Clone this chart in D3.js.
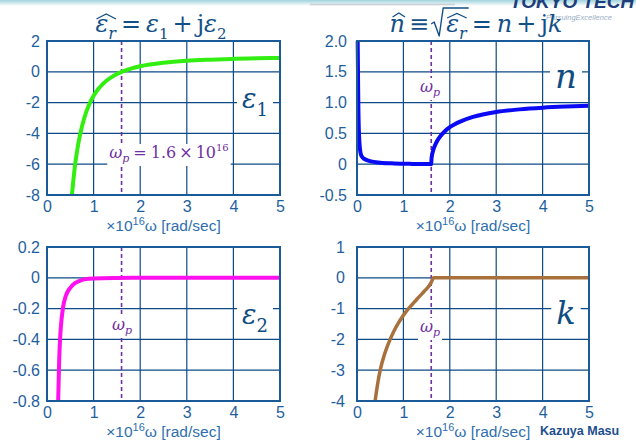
<!DOCTYPE html>
<html>
<head>
<meta charset="utf-8">
<script src="https://cdn.jsdelivr.net/npm/d3@7"></script>
<style>
  body { margin: 0; background: #fff; }
  svg { display: block; }
</style>
</head>
<body>
<div id="chart"></div>
<script>
// ===== Data (omega in 1e16 rad/s) =====
const xTicks = [0, 1, 2, 3, 4, 5];
const omegaP = 1.6;

const eps1Ticks = [2, 0, -2, -4, -6, -8];
const eps1Labels = ["2", "0", "-2", "-4", "-6", "-8"];
const eps1W = [0.535, 0.6, 0.65, 0.7, 0.8, 0.9, 1.0, 1.1, 1.2, 1.4, 1.6, 1.8, 2.0, 2.5, 3.0, 3.5, 4.0, 4.5, 5.0];
const eps1V = [-8.0, -6.1, -5.06, -4.22, -3.0, -2.16, -1.56, -1.12, -0.78, -0.31, 0, 0.21, 0.36, 0.59, 0.72, 0.79, 0.84, 0.874, 0.9];

const nTicks = [2, 1.5, 1, 0.5, 0, -0.5];
const nLabels = ["2.0", "1.5", "1.0", "0.5", "0", "-0.5"];
const nW = [0.015, 0.02, 0.025, 0.03, 0.04, 0.05, 0.065, 0.08, 0.1, 0.15, 0.2, 0.3, 0.5, 0.8, 1.2, 1.58, 1.6, 1.605, 1.62, 1.65, 1.7, 1.8, 1.9, 2.0, 2.25, 2.5, 3.0, 3.5, 4.0, 4.5, 5.0];
const nV = [2.0, 1.6, 1.2, 0.9, 0.55, 0.38, 0.24, 0.17, 0.13, 0.09, 0.07, 0.045, 0.025, 0.012, 0.005, 0.002, 0, 0.08, 0.157, 0.244, 0.338, 0.458, 0.54, 0.6, 0.7, 0.768, 0.848, 0.89, 0.917, 0.935, 0.948];

const eps2Ticks = [0.2, 0, -0.2, -0.4, -0.6, -0.8];
const eps2Labels = ["0.2", "0", "-0.2", "-0.4", "-0.6", "-0.8"];
const eps2W = [0.24, 0.26, 0.28, 0.3, 0.34, 0.4, 0.5, 0.6, 0.7, 0.8, 1.0, 1.5, 2.0, 5.0];
const eps2V = [-0.8, -0.55, -0.4, -0.31, -0.2, -0.12, -0.065, -0.035, -0.02, -0.01, -0.004, -0.001, 0, 0];

const kTicks = [1, 0, -1, -2, -3, -4];
const kLabels = ["1", "0", "-1", "-2", "-3", "-4"];
const kW = [0.39, 0.45, 0.5, 0.6, 0.7, 0.8, 0.9, 1.0, 1.1, 1.2, 1.3, 1.4, 1.47, 1.56, 1.6, 1.65, 5.0];
const kV = [-4.0, -3.4, -3.0, -2.45, -2.05, -1.72, -1.45, -1.22, -1.02, -0.85, -0.68, -0.52, -0.4, -0.25, -0.15, 0, 0];

// ===== Layout =====
const W = 636, H = 442;
const MATH = "'DejaVu Serif', 'Liberation Serif', serif";
const SANS = "'Liberation Sans', Arial, sans-serif";
const NAVY = "#0d4a86";
const TICK = "#1f5f9e";
const PURPLE = "#7030a0";

const svg = d3.select("#chart").append("svg").attr("width", W).attr("height", H);

// header strip + logo
const defs = svg.append("defs");
const grad = defs.append("linearGradient").attr("id", "hdr").attr("x1", 0).attr("y1", 0).attr("x2", 0).attr("y2", 1);
grad.append("stop").attr("offset", "0%").attr("stop-color", "#9fd3dc");
grad.append("stop").attr("offset", "100%").attr("stop-color", "#ffffff");
svg.append("rect").attr("x", 0).attr("y", 0).attr("width", W).attr("height", 6).attr("fill", "url(#hdr)");
svg.append("line").attr("x1", 310).attr("x2", 455).attr("y1", 4.5).attr("y2", 4.5)
  .attr("stroke", "#c9cfd6").attr("stroke-width", 1.5);
svg.append("text").attr("x", 510).attr("y", 8)
  .style("font-family", SANS).style("font-size", "19px").style("font-weight", "bold").style("font-style", "italic")
  .attr("fill", "#1f3d7a").text("TOKYO TECH");
svg.append("text").attr("x", 546).attr("y", 20)
  .style("font-family", SANS).style("font-size", "7.5px").style("font-style", "italic")
  .attr("fill", "#9bb0c8").text("PursuingExcellence");

// ===== Helpers =====
// lays out a row of math parts left to right, centred on cx
function mathRow(parent, cx, base, parts, size, color) {
  const g = parent.append("g");
  let x = 0;
  const boxes = [];
  parts.forEach(p => {
    const fs = p.size || size;
    const dy = p.sub ? size * 0.28 : p.sup ? -size * 0.42 : 0;
    x += p.pre || 0;
    const t = g.append("text")
      .attr("x", x).attr("y", base + dy)
      .style("font-family", MATH)
      .style("font-size", fs + "px")
      .style("font-style", p.it ? "italic" : "normal")
      .attr("fill", p.color || color)
      .text(p.t);
    const w = t.node().getComputedTextLength();
    boxes.push({ x, w, fs });
    x += w + (p.post || 0);
  });
  const left = cx - x / 2;
  g.attr("transform", `translate(${left},0)`);
  return { g, boxes, width: x, left };
}

function drawPanel(p) {
  const x = d3.scaleLinear().domain([0, 5]).range([p.x0, p.x1]);
  const y = d3.scaleLinear().domain([p.ticks[p.ticks.length - 1], p.ticks[0]]).range([p.y1, p.y0]);
  const g = svg.append("g");

  // grid
  g.selectAll(".gx").data(xTicks.slice(1, -1)).enter().append("line")
    .attr("x1", d => x(d)).attr("x2", d => x(d))
    .attr("y1", p.y0).attr("y2", p.y1)
    .attr("stroke", NAVY).attr("stroke-width", 1.2);
  g.selectAll(".gy").data(p.ticks.slice(1, -1)).enter().append("line")
    .attr("x1", p.x0).attr("x2", p.x1)
    .attr("y1", d => y(d)).attr("y2", d => y(d))
    .attr("stroke", NAVY).attr("stroke-width", 1.2);

  // axes labels
  const ax = g.append("g").attr("transform", `translate(0,${p.y1})`)
    .call(d3.axisBottom(x).tickValues(xTicks).tickFormat(d3.format("d")).tickSize(0).tickPadding(6));
  const ay = g.append("g").attr("transform", `translate(${p.x0},0)`)
    .call(d3.axisLeft(y).tickValues(p.ticks).tickFormat((d, i) => p.labels[i]).tickSize(0).tickPadding(p.pad));
  [ax, ay].forEach(a => {
    a.select(".domain").remove();
    a.selectAll("text").style("font-family", SANS).style("font-size", "16px").attr("fill", TICK);
  });

  // x axis title
  const xt = g.append("text").attr("x", (p.x0 + p.x1) / 2).attr("y", p.y1 + 36)
    .attr("text-anchor", "middle")
    .style("font-family", SANS).style("font-size", "15.5px").attr("fill", "#2f6fae");
  xt.append("tspan").text("×10");
  xt.append("tspan").attr("dy", -6).style("font-size", "11px").text("16");
  xt.append("tspan").attr("dy", 6).text("ω [rad/sec]");

  // omega_p dashed line
  g.append("line")
    .attr("x1", x(omegaP)).attr("x2", x(omegaP))
    .attr("y1", p.y0).attr("y2", p.y1)
    .attr("stroke", PURPLE).attr("stroke-width", 1.6).attr("stroke-dasharray", "4,3");

  // omega_p label with white backing
  const lab = mathRow(g, p.wpX, p.wpY, p.wpParts, 16, PURPLE);
  g.insert("rect", () => lab.g.node())
    .attr("x", lab.left - 2).attr("y", p.wpY - 14).attr("width", lab.width + 4).attr("height", 22)
    .attr("fill", "#fff");

  // curve
  const pts = p.w.map((w, i) => [w, p.v[i]]);
  g.append("path").datum(pts)
    .attr("d", d3.line().x(d => x(d[0])).y(d => y(d[1])).curve(d3.curveMonotoneX))
    .attr("fill", "none").attr("stroke", p.color).attr("stroke-width", p.sw)
    .attr("stroke-linejoin", "round");

  // frame
  g.append("rect").attr("x", p.x0).attr("y", p.y0).attr("width", p.x1 - p.x0).attr("height", p.y1 - p.y0)
    .attr("fill", "none").attr("stroke", "#1b5a98").attr("stroke-width", 2);

  // big symbol label
  const sym = mathRow(g, p.symX, p.symY, p.symParts, 27, "#0f4c81");
  g.insert("rect", () => sym.g.node())
    .attr("x", sym.left - 5).attr("y", p.symY - 24).attr("width", sym.width + 10).attr("height", 34)
    .attr("fill", "#fff");
}

const wpShort = [{ t: "ω", it: true }, { t: "p", it: true, sub: true, size: 11 }];
const wpLong = [{ t: "ω", it: true }, { t: "p", it: true, sub: true, size: 11, post: 4 },
  { t: "=", post: 4 }, { t: "1.6", post: 3 }, { t: "×", post: 3 }, { t: "10" }, { t: "16", sup: true, size: 10 }];

const panels = [
  { x0: 47, x1: 280, y0: 41, y1: 195, ticks: eps1Ticks, labels: eps1Labels, pad: 7,
    w: eps1W, v: eps1V, color: "#33ee11", sw: 4,
    wpX: 169, wpY: 158, wpParts: wpLong,
    symX: 255, symY: 108, symParts: [{ t: "ε", it: true }, { t: "1", sub: true, size: 18 }] },
  { x0: 357, x1: 589, y0: 41, y1: 195, ticks: nTicks, labels: nLabels, pad: 10,
    w: nW, v: nV, color: "#0a0af5", sw: 4,
    wpX: 430, wpY: 92, wpParts: wpShort,
    symX: 566, symY: 88, symParts: [{ t: "n", it: true, size: 34 }] },
  { x0: 47, x1: 280, y0: 247, y1: 401, ticks: eps2Ticks, labels: eps2Labels, pad: 7,
    w: eps2W, v: eps2V, color: "#ff10ee", sw: 4,
    wpX: 122, wpY: 330, wpParts: wpShort,
    symX: 255, symY: 324, symParts: [{ t: "ε", it: true }, { t: "2", sub: true, size: 18 }] },
  { x0: 357, x1: 589, y0: 247, y1: 401, ticks: kTicks, labels: kLabels, pad: 12,
    w: kW, v: kV, color: "#a8703c", sw: 3.5,
    wpX: 430, wpY: 332, wpParts: wpShort,
    symX: 566, symY: 324, symParts: [{ t: "k", it: true, size: 32 }] },
];

panels.forEach(drawPanel);

// ===== Titles =====
const TCOL = "#134f87";
const t1 = mathRow(svg, 161, 32, [
  { t: "ε", it: true }, { t: "r", it: true, sub: true, size: 16, post: 5 },
  { t: "=", post: 5 }, { t: "ε", it: true }, { t: "1", sub: true, size: 15, post: 4 },
  { t: "+", post: 4 }, { t: "j" }, { t: "ε", it: true }, { t: "2", sub: true, size: 15 }
], 24, TCOL);
{
  const b0 = t1.boxes[0], b1 = t1.boxes[1];
  const xa = b0.x + 1, xb = b1.x + b1.w;
  t1.g.append("path")
    .attr("d", `M${xa},${19} L${(xa + xb) / 2},${14} L${xb},${19}`)
    .attr("fill", "none").attr("stroke", TCOL).attr("stroke-width", 1.3);
}

const t2 = mathRow(svg, 476, 32, [
  { t: "n", it: true, post: 4 }, { t: "≡", post: 17 },
  { t: "ε", it: true }, { t: "r", it: true, sub: true, size: 16, post: 5 },
  { t: "=", post: 5 }, { t: "n", it: true, post: 4 }, { t: "+", post: 4 }, { t: "j" }, { t: "k", it: true }
], 24, TCOL);
{
  const n0 = t2.boxes[0];
  t2.g.append("path")
    .attr("d", `M${n0.x + 3},${17} L${n0.x + n0.w / 2 + 1.5},${13} L${n0.x + n0.w},${17}`)
    .attr("fill", "none").attr("stroke", TCOL).attr("stroke-width", 1.3);
  const e0 = t2.boxes[2], r0 = t2.boxes[3];
  const xa = e0.x + 1, xb = r0.x + r0.w;
  t2.g.append("path")
    .attr("d", `M${xa},${18} L${(xa + xb) / 2},${13.5} L${xb},${18}`)
    .attr("fill", "none").attr("stroke", TCOL).attr("stroke-width", 1.3);
  // radical sign
  const rx = e0.x - 3;
  t2.g.append("path")
    .attr("d", `M${rx - 12},${24} L${rx - 9},${22} L${rx - 4},${36} L${rx},${8} L${xb + 2},${8}`)
    .attr("fill", "none").attr("stroke", TCOL).attr("stroke-width", 1.4).attr("stroke-linejoin", "round");
}

// signature
svg.append("text").attr("x", 540).attr("y", 435)
  .style("font-family", SANS).style("font-size", "12.5px").style("font-weight", "bold")
  .attr("fill", "#1d4f8f").text("Kazuya Masu");
</script>
</body>
</html>
